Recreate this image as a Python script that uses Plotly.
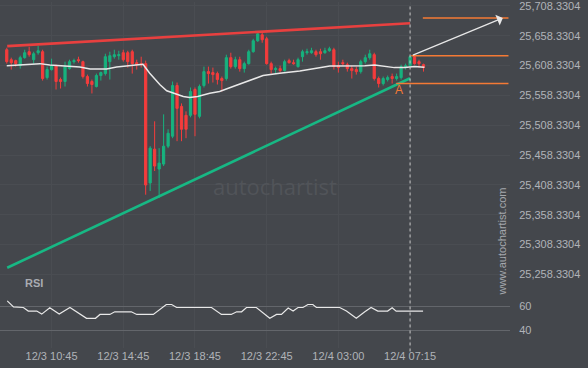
import plotly.graph_objects as go

# ---------------- data ----------------
bar_index = list(range(94))
open_ = [25635.0, 25618.3, 25616.7, 25608.3, 25621.7, 25631.7, 25618.3, 25630.0, 25631.7, 25588.3,
         25601.7, 25608.3, 25585.0, 25581.7, 25603.3, 25615.0, 25618.3, 25615.0, 25590.0, 25581.7,
         25573.3, 25591.7, 25595.0, 25615.0, 25623.3, 25625.0, 25630.0, 25630.0, 25631.7, 25613.3,
         25611.7, 25611.7, 25411.7, 25468.3, 25435.0, 25443.3, 25473.3, 25490.0, 25575.0, 25540.0,
         25525.0, 25525.0, 25568.3, 25523.3, 25575.0, 25598.3, 25596.7, 25595.0, 25586.7, 25586.7,
         25621.7, 25606.7, 25618.3, 25603.3, 25611.7, 25631.7, 25650.0, 25660.0, 25653.3, 25611.7,
         25601.7, 25603.3, 25600.0, 25616.7, 25613.3, 25606.7, 25623.3, 25630.0, 25630.0, 25631.7,
         25631.7, 25630.0, 25633.3, 25635.0, 25608.3, 25613.3, 25610.0, 25603.3, 25601.7, 25598.3,
         25615.0, 25621.7, 25626.7, 25586.7, 25578.3, 25585.0, 25590.0, 25586.7, 25588.3, 25605.0,
         25608.3, 25623.3, 25615.0, 25610.0]
high = [25638.3, 25621.7, 25618.3, 25625.0, 25635.0, 25640.0, 25631.7, 25641.7, 25635.0, 25606.7,
        25620.0, 25610.0, 25588.3, 25615.0, 25618.3, 25620.0, 25623.3, 25616.7, 25593.3, 25585.0,
        25595.0, 25598.3, 25628.3, 25631.7, 25635.0, 25633.3, 25635.0, 25633.3, 25635.0, 25618.3,
        25623.3, 25616.7, 25473.3, 25515.0, 25470.0, 25526.7, 25501.7, 25581.7, 25580.0, 25545.0,
        25531.7, 25571.7, 25571.7, 25576.7, 25606.7, 25606.7, 25605.0, 25598.3, 25590.0, 25626.7,
        25630.0, 25623.3, 25623.3, 25615.0, 25635.0, 25653.3, 25663.3, 25663.3, 25656.7, 25615.0,
        25606.7, 25608.3, 25618.3, 25620.0, 25618.3, 25621.7, 25635.0, 25636.7, 25638.3, 25635.0,
        25636.7, 25638.3, 25640.0, 25638.3, 25615.0, 25618.3, 25613.3, 25608.3, 25606.7, 25618.3,
        25626.7, 25635.0, 25630.0, 25590.0, 25590.0, 25591.7, 25595.0, 25595.0, 25610.0, 25611.7,
        25625.0, 25625.0, 25618.3, 25611.7]
low = [25611.7, 25601.7, 25606.7, 25603.3, 25620.0, 25623.3, 25611.7, 25626.7, 25583.3, 25585.0,
       25600.0, 25568.3, 25570.0, 25573.3, 25601.7, 25611.7, 25613.3, 25586.7, 25573.3, 25561.7,
       25571.7, 25583.3, 25591.7, 25585.0, 25620.0, 25618.3, 25615.0, 25605.0, 25595.0, 25601.7,
       25605.0, 25392.0, 25398.3, 25431.7, 25386.7, 25440.0, 25470.0, 25486.7, 25481.7, 25481.7,
       25486.7, 25521.7, 25490.0, 25520.0, 25571.7, 25578.3, 25580.0, 25576.7, 25565.0, 25583.3,
       25603.3, 25603.3, 25598.3, 25596.7, 25610.0, 25630.0, 25648.3, 25646.7, 25610.0, 25595.0,
       25595.0, 25596.7, 25598.3, 25611.7, 25610.0, 25605.0, 25615.0, 25626.7, 25628.3, 25623.3,
       25618.3, 25628.3, 25631.7, 25601.7, 25596.7, 25608.3, 25598.3, 25586.7, 25593.3, 25595.0,
       25611.7, 25618.3, 25583.3, 25571.7, 25575.0, 25581.7, 25578.3, 25583.3, 25585.0, 25601.7,
       25606.7, 25610.0, 25605.0, 25598.3]
close = [25615.0, 25613.3, 25611.7, 25621.7, 25630.0, 25626.7, 25628.3, 25633.3, 25586.7, 25601.7,
         25608.3, 25581.7, 25581.7, 25606.7, 25615.0, 25616.7, 25616.7, 25590.0, 25578.3, 25576.7,
         25591.7, 25596.7, 25623.3, 25625.0, 25626.7, 25626.7, 25618.3, 25615.0, 25611.7, 25610.0,
         25610.0, 25408.3, 25470.0, 25440.0, 25445.0, 25473.3, 25495.0, 25575.0, 25536.7, 25501.7,
         25501.7, 25565.0, 25526.7, 25573.3, 25598.3, 25595.0, 25593.3, 25585.0, 25583.3, 25621.7,
         25606.7, 25618.3, 25603.3, 25611.7, 25631.7, 25650.0, 25661.7, 25651.7, 25611.7, 25601.7,
         25603.3, 25600.0, 25615.0, 25613.3, 25611.7, 25618.3, 25631.7, 25631.7, 25633.3, 25626.7,
         25628.3, 25633.3, 25636.7, 25606.7, 25605.0, 25611.7, 25603.3, 25600.0, 25598.3, 25615.0,
         25621.7, 25628.3, 25586.7, 25578.3, 25586.7, 25588.3, 25586.7, 25590.0, 25606.7, 25608.3,
         25623.3, 25611.7, 25611.7, 25605.0]

ma_x = [0, 7.4, 9.6, 16.3, 18.6, 22.3, 24.5, 28.2, 30.4, 31.9, 34.2, 35.7, 37.1, 39.4, 40.8, 42.6,
        45.3, 47.5, 50.5, 53.5, 57.2, 60.9, 65.4, 72.1, 76.9, 79.9, 82.1, 84.3, 86.5, 88.8, 91.0, 93.2]
ma_y = [25608.3, 25611.7, 25609.5, 25606.2, 25602.8, 25602.8, 25606.2, 25609.5, 25610.5, 25595.5,
        25576.2, 25566.2, 25562.2, 25556.7, 25555.0, 25556.7, 25562.2, 25565.0, 25573.3, 25581.7,
        25591.7, 25595.5, 25599.5, 25607.8, 25607.8, 25608.3, 25609.5, 25606.7, 25605.0, 25605.0,
        25606.7, 25605.5]

rsi_x = [0.1, 1.5, 3.7, 4.8, 6.7, 7.8, 9.6, 11.7, 14.1, 17.8, 19.8, 20.8, 23.0, 24.1, 27.8, 29.0,
         32.7, 35.6, 36.8, 37.9, 45.7, 47.9, 50.1, 51.3, 52.4, 53.5, 55.7, 58.7, 60.2, 61.3, 62.8,
         63.9, 65.0, 66.1, 67.2, 68.3, 69.1, 74.3, 75.8, 78.0, 79.9, 81.3, 82.8, 85.0, 86.0, 86.9, 92.9]
rsi_y = [64.4, 59.4, 58.9, 55.9, 55.9, 53.4, 58.6, 53.4, 58.9, 49.9, 49.9, 53.1, 53.1, 55.3, 55.3, 53.1,
         53.1, 61.4, 61.4, 58.9, 58.9, 53.1, 53.1, 55.3, 55.3, 58.9, 58.9, 49.9, 53.1, 53.1, 58.4,
         55.9, 58.9, 58.9, 61.4, 61.4, 58.9, 58.9, 55.9, 49.9, 55.3, 58.9, 55.9, 55.9, 58.6, 55.9, 55.9]

resistance_x = [0.1, 90]
resistance_y = [25641.0, 25679.5]
support_x = [0.1, 90]
support_y = [25269.5, 25587.2]

level_names = ["target", "breakout", "point A"]
level_price = [25688.3, 25625.0, 25578.3]
level_start = [92.85, 90.27, 86.9]
level_end = [111.96, 111.96, 111.96]

arrow_from = (90.3, 25625.0)
arrow_to = (110.7, 25688.3)
point_a = (87.5, 25567.2)
signal_bar = 90

tick_bars = [10, 26, 42, 58, 74, 90]
tick_labels = ["12/3 10:45", "12/3 14:45", "12/3 18:45", "12/3 22:45", "12/4 03:00", "12/4 07:15"]
price_ticks = [25258.3304 + 50 * k for k in range(10)]
rsi_ticks = [40, 60]

# ---------------- style ----------------
BG = "#44474c"
RED = "#f53c3c"
GREEN = "#17b27e"
ORANGE = "#f47a35"
TXT = "#b0b3b8"
FONT = "Liberation Sans, Arial, sans-serif"

fig = go.Figure()

fig.add_trace(go.Scatter(x=support_x, y=support_y, mode="lines",
                         line=dict(color="#17b884", width=2.6), hoverinfo="skip"))
fig.add_trace(go.Scatter(x=resistance_x, y=resistance_y, mode="lines",
                         line=dict(color="#e8403f", width=2.6), hoverinfo="skip"))

fig.add_trace(go.Candlestick(
    x=bar_index, open=open_, high=high, low=low, close=close,
    increasing=dict(line=dict(color=GREEN, width=1), fillcolor=GREEN),
    decreasing=dict(line=dict(color=RED, width=1), fillcolor=RED),
    whiskerwidth=0, hoverinfo="skip"))

fig.add_trace(go.Scatter(x=ma_x, y=ma_y, mode="lines",
                         line=dict(color="#e8e8e8", width=1.5), hoverinfo="skip"))

for p, s, e in zip(level_price, level_start, level_end):
    fig.add_trace(go.Scatter(x=[s, e], y=[p, p], mode="lines",
                             line=dict(color=ORANGE, width=1.4), hoverinfo="skip"))

fig.add_trace(go.Scatter(x=rsi_x, y=rsi_y, mode="lines", yaxis="y2",
                         line=dict(color="#e8e8e8", width=1.2), hoverinfo="skip"))

fig.add_shape(type="line", xref="x", yref="paper", x0=signal_bar, x1=signal_bar,
              y0=-0.01, y1=0.99, line=dict(color="#c8c8c8", width=1, dash="3px,3px"))

fig.add_annotation(x=arrow_to[0], y=arrow_to[1], ax=arrow_from[0], ay=arrow_from[1],
                   xref="x", yref="y", axref="x", ayref="y", text="", showarrow=True,
                   arrowhead=1, arrowsize=1.6, arrowwidth=1.2, arrowcolor="#e8e8e8")
fig.add_annotation(x=point_a[0], y=point_a[1], xref="x", yref="y", text="A", showarrow=False,
                   font=dict(family=FONT, size=12, color=ORANGE))
fig.add_annotation(x=0.539, y=0.468, xref="paper", yref="paper", text="autochartist",
                   showarrow=False, font=dict(family="Open Sans, " + FONT, size=22, color="#515459"))
fig.add_annotation(x=0.9994, y=0.145, xref="paper", yref="paper", text="www.autochartist.com",
                   showarrow=False, textangle=-90, font=dict(family=FONT, size=11, color="#a5a8ad"))
fig.add_annotation(x=0.045, y=0.164, xref="paper", yref="paper", text="<b>RSI</b>",
                   showarrow=False, font=dict(family=FONT, size=11, color="#a9acb2"))

fig.update_layout(
    width=588, height=368,
    margin=dict(l=0, r=78, t=0, b=20),
    paper_bgcolor=BG, plot_bgcolor=BG,
    showlegend=False,
    font=dict(family=FONT, size=11, color=TXT),
    xaxis=dict(range=[-1.51, 112.3], domain=[0, 1], anchor="y2",
               tickvals=tick_bars, ticktext=tick_labels, ticks="",
               showgrid=True, gridcolor="#4a4d52", gridwidth=1, zeroline=False, showline=False,
               rangeslider=dict(visible=False), tickfont=dict(size=11, color=TXT)),
    yaxis=dict(domain=[0.181, 1], range=[25240.0, 25715.0], side="right",
               tickvals=price_ticks, ticktext=[f"{v:,.4f}" for v in price_ticks],
               ticks="outside", ticklen=6, tickcolor=BG, ticklabeloverflow="allow",
               showgrid=True, gridcolor="#4a4d52", zeroline=False, showline=False,
               tickfont=dict(size=11, color=TXT)),
    yaxis2=dict(domain=[0, 0.181], range=[25.2, 77.3], side="right",
                tickvals=rsi_ticks, ticktext=[str(v) for v in rsi_ticks],
                ticks="outside", ticklen=6, tickcolor=BG,
                showgrid=True, gridcolor="#63666b", zeroline=False, showline=False,
                tickfont=dict(size=11, color=TXT)),
)

fig.write_html("out.html")
